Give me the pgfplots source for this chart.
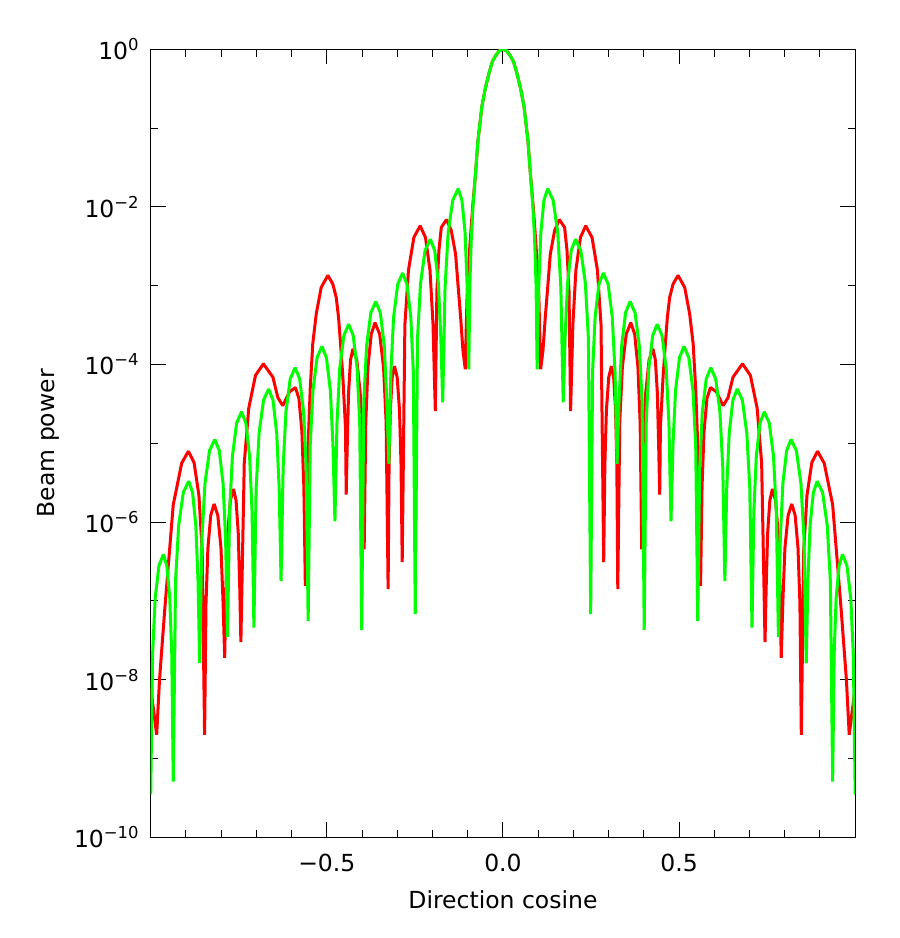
\documentclass[border=0pt]{standalone}
\usepackage{fontspec}
\setmainfont{DejaVu Sans}
\usepackage{pgfplots}
\pgfplotsset{compat=1.18}
\definecolor{idlred}{RGB}{255,0,0}
\definecolor{idlgreen}{RGB}{0,255,0}
\begin{document}
\begin{tikzpicture}
\useasboundingbox (0,0) rectangle (900pt,938pt);
\fill[white] (0,0) rectangle (900pt,938pt);
\begin{axis}[
  at={(150.7pt,100.7pt)}, anchor=south west,
  scale only axis, width=704.5pt, height=788pt,
  xmin=-1, xmax=1, ymode=log, ymin=1e-10, ymax=1,
  xtick={-0.5,0,0.5}, xticklabels={−0.5,0.0,0.5},
  minor xtick={-0.9,-0.8,-0.7,-0.6,-0.4,-0.3,-0.2,-0.1,0.1,0.2,0.3,0.4,0.6,0.7,0.8,0.9},
  ytick={1e-10,1e-8,1e-6,1e-4,1e-2,1},
  yticklabels={10\textsuperscript{−10},10\textsuperscript{−8},10\textsuperscript{−6},10\textsuperscript{−4},10\textsuperscript{−2},10\textsuperscript{0}},
  minor ytick={1e-9,1e-7,1e-5,1e-3,1e-1},
  major tick length=15pt, minor tick length=7.5pt,
  tick align=inside,
  tick style={black, line width=1pt},
  axis line style={black, line width=1.2pt},
  tick label style={font=\fontsize{23.5}{28}\selectfont},
  label style={font=\fontsize{23.5}{28}\selectfont},
  xticklabel style={yshift=-13pt},
  yticklabel style={xshift=-8pt},
  xlabel={Direction cosine}, ylabel={Beam power},
  xlabel style={at={(axis description cs:0.5,-0.0797)}, anchor=center},
  ylabel style={at={(axis description cs:-0.1447,0.5)}, anchor=center},
]
% red series
\addplot[idlred, line width=3pt, line join=bevel] coordinates {
(-1.000,7.9e-9) (-0.983,2.0e-9) (-0.975,1.0e-8) (-0.960,7.9e-8) (-0.936,1.66e-6) (-0.912,5.6e-6)
(-0.893,7.94e-6) (-0.8769,5.7e-6) (-0.8631,2.18e-6) (-0.8539,4.4e-7) (-0.847,2.0e-9)
(-0.843,9.4e-8) (-0.8376,4.7e-7) (-0.8295,1.22e-6) (-0.820,1.70e-6) (-0.8095,1.22e-6) (-0.8005,4.7e-7) (-0.7945,9.4e-8) (-0.790,1.9e-8)
(-0.7863,1.45e-7) (-0.7813,7.2e-7) (-0.7738,1.89e-6) (-0.765,2.63e-6) (-0.7577,1.89e-6) (-0.7514,7.2e-7) (-0.7472,1.45e-7) (-0.744,3.0e-8)
(-0.7344,5.6e-6) (-0.7216,2.8e-5) (-0.7024,7.3e-5) (-0.680,1.02e-4) (-0.653,6.9e-5) (-0.639,3.8e-5) (-0.625,3.0e-5) (-0.606,4.5e-5)
(-0.589,5.1e-5) (-0.5792,3.7e-5) (-0.5708,1.41e-5) (-0.5652,2.8e-6) (-0.561,1.55e-7)
(-0.552,1.26e-5) (-0.547,5.1e-5) (-0.540,1.82e-4) (-0.530,4.4e-4) (-0.516,9.5e-4) (-0.497,1.35e-3) (-0.483,1.05e-3) (-0.4733,7.1e-4)
(-0.4668,4.0e-4) (-0.461,1.82e-4) (-0.4545,6.9e-5) (-0.447,1.58e-5) (-0.445,2.24e-6)
(-0.4422,8.7e-6) (-0.4384,4.3e-5) (-0.4327,1.14e-4) (-0.426,1.58e-4) (-0.4148,1.14e-4) (-0.4052,4.3e-5) (-0.3988,8.7e-6) (-0.394,4.5e-7)
(-0.3894,1.86e-5) (-0.3832,9.3e-5) (-0.3739,2.44e-4) (-0.363,3.39e-4) (-0.3501,2.44e-4) (-0.3390,9.3e-5) (-0.3316,1.86e-5) (-0.326,1.41e-7)
(-0.3233,5.3e-6) (-0.3197,2.63e-5) (-0.3143,6.9e-5) (-0.308,9.55e-5) (-0.3003,6.9e-5) (-0.2937,2.63e-5) (-0.2893,5.3e-6) (-0.286,3.1e-7)
(-0.2784,3.2e-4) (-0.2682,1.58e-3) (-0.2529,4.1e-3) (-0.235,5.75e-3) (-0.2200,4.1e-3) (-0.2071,1.58e-3) (-0.1985,3.2e-4) (-0.192,2.57e-5)
(-0.1875,8.7e-4) (-0.1818,2.8e-3) (-0.1750,5.5e-3) (-0.160,6.92e-3) (-0.1466,5.0e-3) (-0.1344,2.5e-3) (-0.1278,1.05e-3) (-0.1202,4.0e-4)
(-0.1136,1.51e-4) (-0.107,8.7e-5)
(-0.102,7.0e-4) (-0.094,3.2e-3) (-0.086,1.0e-2) (-0.078,2.6e-2) (-0.071,6.9e-2) (-0.060,0.186) (-0.050,0.32) (-0.040,0.49) (-0.030,0.70)
(-0.020,0.84) (-0.010,0.96) (0,1.0) (0.010,0.96) (0.020,0.84)
(0.030,0.70) (0.040,0.49) (0.050,0.32) (0.060,0.186) (0.071,6.9e-2) (0.078,2.6e-2) (0.086,1.0e-2) (0.094,3.2e-3) (0.102,7.0e-4)
(0.107,8.7e-5) (0.1136,1.51e-4)
(0.1202,4.0e-4) (0.1278,1.05e-3) (0.1344,2.5e-3) (0.1466,5.0e-3) (0.160,6.92e-3) (0.1750,5.5e-3) (0.1818,2.8e-3) (0.1875,8.7e-4)
(0.192,2.57e-5) (0.1985,3.2e-4) (0.2071,1.58e-3) (0.2200,4.1e-3) (0.235,5.75e-3) (0.2529,4.1e-3) (0.2682,1.58e-3) (0.2784,3.2e-4)
(0.286,3.1e-7) (0.2893,5.3e-6) (0.2937,2.63e-5) (0.3003,6.9e-5) (0.308,9.55e-5) (0.3143,6.9e-5) (0.3197,2.63e-5) (0.3233,5.3e-6)
(0.326,1.41e-7) (0.3316,1.86e-5) (0.3390,9.3e-5) (0.3501,2.44e-4) (0.363,3.39e-4) (0.3739,2.44e-4) (0.3832,9.3e-5) (0.3894,1.86e-5)
(0.394,4.5e-7) (0.3988,8.7e-6) (0.4052,4.3e-5) (0.4148,1.14e-4) (0.426,1.58e-4) (0.4327,1.14e-4) (0.4384,4.3e-5) (0.4422,8.7e-6)
(0.445,2.24e-6) (0.447,1.58e-5) (0.4545,6.9e-5) (0.461,1.82e-4) (0.4668,4.0e-4)
(0.4733,7.1e-4) (0.483,1.05e-3) (0.497,1.35e-3) (0.516,9.5e-4) (0.530,4.4e-4) (0.540,1.82e-4) (0.547,5.1e-5) (0.552,1.26e-5)
(0.561,1.55e-7) (0.5652,2.8e-6) (0.5708,1.41e-5) (0.5792,3.7e-5) (0.589,5.1e-5)
(0.606,4.5e-5) (0.625,3.0e-5) (0.639,3.8e-5) (0.653,6.9e-5) (0.680,1.02e-4) (0.7024,7.3e-5) (0.7216,2.8e-5) (0.7344,5.6e-6)
(0.744,3.0e-8) (0.7472,1.45e-7) (0.7514,7.2e-7) (0.7577,1.89e-6) (0.765,2.63e-6) (0.7738,1.89e-6) (0.7813,7.2e-7) (0.7863,1.45e-7)
(0.790,1.9e-8) (0.7945,9.4e-8) (0.8005,4.7e-7) (0.8095,1.22e-6) (0.820,1.70e-6) (0.8295,1.22e-6) (0.8376,4.7e-7) (0.843,9.4e-8)
(0.847,2.0e-9) (0.8539,4.4e-7) (0.8631,2.18e-6) (0.8769,5.7e-6) (0.893,7.94e-6)
(0.912,5.6e-6) (0.936,1.66e-6) (0.960,7.9e-8) (0.975,1.0e-8) (0.983,2.0e-9) (1.000,7.9e-9)
};
% green series
\addplot[idlgreen, line width=3pt, line join=bevel] coordinates {
(-1.000,3.5e-10) (-0.9946,2.1e-8) (-0.9874,1.07e-7) (-0.9766,2.8e-7) (-0.964,3.9e-7) (-0.9542,2.8e-7) (-0.9458,1.07e-7) (-0.9402,2.1e-8)
(-0.936,5.1e-10) (-0.9294,1.82e-7) (-0.9206,9.1e-7) (-0.9074,2.38e-6) (-0.892,3.31e-6) (-0.8812,2.38e-6) (-0.8719,9.1e-7) (-0.8657,1.82e-7)
(-0.861,1.62e-8) (-0.8546,6.2e-7) (-0.846,3.08e-6) (-0.833,8.1e-6) (-0.818,1.12e-5) (-0.8054,8.1e-6) (-0.7946,3.08e-6) (-0.7874,6.2e-7)
(-0.782,3.5e-8) (-0.776,1.38e-6) (-0.768,6.9e-6) (-0.756,1.81e-5) (-0.742,2.51e-5) (-0.7298,1.81e-5) (-0.7193,6.9e-6) (-0.7123,1.38e-6)
(-0.707,4.6e-8) (-0.7007,2.7e-6) (-0.6923,1.35e-5) (-0.6797,3.53e-5) (-0.665,4.9e-5) (-0.6528,3.53e-5) (-0.6423,1.35e-5) (-0.6353,2.7e-6)
(-0.630,1.78e-7) (-0.624,5.0e-6) (-0.616,2.51e-5) (-0.604,6.57e-5) (-0.590,9.12e-5) (-0.5771,6.57e-5) (-0.5660,2.51e-5) (-0.5586,5.0e-6)
(-0.553,5.6e-8) (-0.5472,9.4e-6) (-0.5394,4.7e-5) (-0.5277,1.22e-4) (-0.514,1.70e-4) (-0.5011,1.22e-4) (-0.4900,4.7e-5) (-0.4826,9.4e-6)
(-0.477,1.02e-6) (-0.4712,1.78e-5) (-0.4634,8.9e-5) (-0.4517,2.33e-4) (-0.438,3.24e-4) (-0.4251,2.33e-4) (-0.4140,8.9e-5) (-0.4066,1.78e-5)
(-0.401,4.3e-8) (-0.395,3.47e-5) (-0.387,1.74e-4) (-0.375,4.54e-4) (-0.361,6.31e-4) (-0.3481,4.54e-4) (-0.3370,1.74e-4) (-0.3296,3.47e-5)
(-0.324,5.5e-6) (-0.3182,8.0e-5) (-0.3104,3.99e-4) (-0.2987,1.04e-3) (-0.285,1.45e-3) (-0.2724,1.04e-3) (-0.2616,3.99e-4) (-0.2544,8.0e-5)
(-0.249,6.8e-8) (-0.2426,2.14e-4) (-0.2340,1.07e-3) (-0.2211,2.80e-3) (-0.206,3.89e-3) (-0.1938,2.80e-3) (-0.1833,1.07e-3) (-0.1763,2.14e-4)
(-0.171,3.3e-5) (-0.1644,9.4e-4) (-0.1556,4.7e-3) (-0.1424,1.22e-2) (-0.127,1.70e-2) (-0.1165,1.22e-2) (-0.1075,4.7e-3) (-0.1015,9.4e-4)
(-0.097,8.7e-5) (-0.094,1.0e-3) (-0.090,3.8e-3) (-0.085,1.0e-2) (-0.078,2.63e-2) (-0.071,6.9e-2) (-0.060,0.186) (-0.050,0.32) (-0.040,0.49)
(-0.030,0.70) (-0.020,0.84) (-0.010,0.96)
(0,1.0)
(0.010,0.96) (0.020,0.84) (0.030,0.70) (0.040,0.49) (0.050,0.32) (0.060,0.186) (0.071,6.9e-2) (0.078,2.63e-2) (0.085,1.0e-2) (0.090,3.8e-3) (0.094,1.0e-3) (0.097,8.7e-5)
(0.1015,9.4e-4) (0.1075,4.7e-3) (0.1165,1.22e-2) (0.127,1.70e-2) (0.1424,1.22e-2) (0.1556,4.7e-3) (0.1644,9.4e-4) (0.171,3.3e-5)
(0.1763,2.14e-4) (0.1833,1.07e-3) (0.1938,2.80e-3) (0.206,3.89e-3) (0.2211,2.80e-3) (0.2340,1.07e-3) (0.2426,2.14e-4) (0.249,6.8e-8)
(0.2544,8.0e-5) (0.2616,3.99e-4) (0.2724,1.04e-3) (0.285,1.45e-3) (0.2987,1.04e-3) (0.3104,3.99e-4) (0.3182,8.0e-5) (0.324,5.5e-6)
(0.3296,3.47e-5) (0.3370,1.74e-4) (0.3481,4.54e-4) (0.361,6.31e-4) (0.375,4.54e-4) (0.387,1.74e-4) (0.395,3.47e-5) (0.401,4.3e-8)
(0.4066,1.78e-5) (0.4140,8.9e-5) (0.4251,2.33e-4) (0.438,3.24e-4) (0.4517,2.33e-4) (0.4634,8.9e-5) (0.4712,1.78e-5) (0.477,1.02e-6)
(0.4826,9.4e-6) (0.4900,4.7e-5) (0.5011,1.22e-4) (0.514,1.70e-4) (0.5277,1.22e-4) (0.5394,4.7e-5) (0.5472,9.4e-6) (0.553,5.6e-8)
(0.5586,5.0e-6) (0.5660,2.51e-5) (0.5771,6.57e-5) (0.590,9.12e-5) (0.604,6.57e-5) (0.616,2.51e-5) (0.624,5.0e-6) (0.630,1.78e-7)
(0.6353,2.7e-6) (0.6423,1.35e-5) (0.6528,3.53e-5) (0.665,4.9e-5) (0.6797,3.53e-5) (0.6923,1.35e-5) (0.7007,2.7e-6) (0.707,4.6e-8)
(0.7123,1.38e-6) (0.7193,6.9e-6) (0.7298,1.81e-5) (0.742,2.51e-5) (0.756,1.81e-5) (0.768,6.9e-6) (0.776,1.38e-6) (0.782,3.5e-8)
(0.7874,6.2e-7) (0.7946,3.08e-6) (0.8054,8.1e-6) (0.818,1.12e-5) (0.833,8.1e-6) (0.846,3.08e-6) (0.8546,6.2e-7) (0.861,1.62e-8)
(0.8657,1.82e-7) (0.8719,9.1e-7) (0.8812,2.38e-6) (0.892,3.31e-6) (0.9074,2.38e-6) (0.9206,9.1e-7) (0.9294,1.82e-7) (0.936,5.1e-10)
(0.9402,2.1e-8) (0.9458,1.07e-7) (0.9542,2.8e-7) (0.964,3.9e-7) (0.9766,2.8e-7) (0.9874,1.07e-7) (0.9946,2.1e-8) (1.000,3.5e-10)
};
\end{axis}
\end{tikzpicture}
\end{document}
